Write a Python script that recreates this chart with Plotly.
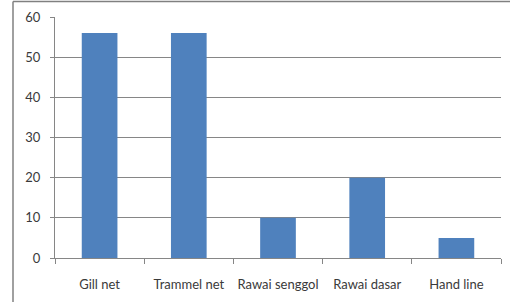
import plotly.graph_objects as go

categories = ["Gill net", "Trammel net", "Rawai senggol", "Rawai dasar", "Hand line"]
values = [56, 56, 10, 20, 5]
y_ticks = [0, 10, 20, 30, 40, 50, 60]

W, H = 510, 302
L, R, T, B = 55, 9, 17, 44
pw, ph = W - L - R, H - T - B

fig = go.Figure(go.Bar(x=categories, y=values, marker=dict(color="#4F81BD", line=dict(width=0)), width=0.4))

fig.update_layout(
    width=W, height=H,
    margin=dict(l=L, r=R, t=T, b=B, autoexpand=False),
    paper_bgcolor="white", plot_bgcolor="white",
    showlegend=False,
    font=dict(family="Lato", size=13, color="#3a3a3a"),
)
fig.update_xaxes(
    showline=True, linecolor="#868686", linewidth=1,
    ticks="outside", ticklen=5, tickcolor="#868686", tickson="boundaries",
    showgrid=False, tickfont=dict(size=13), ticklabelstandoff=14, automargin=False,
    tickangle=0,
)
fig.update_yaxes(
    range=[0, 60], tickvals=y_ticks, showline=True, linecolor="#868686", linewidth=1,
    ticks="outside", ticklen=4, tickcolor="#868686",
    showgrid=True, gridcolor="#868686", gridwidth=1, zeroline=False,
    tickfont=dict(size=13), ticklabelstandoff=7, automargin=False,
)
# outer chart frame (cropped on the right and bottom)
fx0 = (13 - L) / pw
fy1 = 1 + (T - 1.5) / ph
fig.add_shape(type="line", xref="paper", yref="paper", x0=fx0, x1=fx0, y0=fy1, y1=-1, line=dict(color="#808080", width=1.5))
fig.add_shape(type="line", xref="paper", yref="paper", x0=fx0, x1=2, y0=fy1, y1=fy1, line=dict(color="#808080", width=1.5))

fig.write_html("out.html", config={"displayModeBar": False},
               post_script="document.body.style.margin='0px';document.body.style.overflow='hidden';")
